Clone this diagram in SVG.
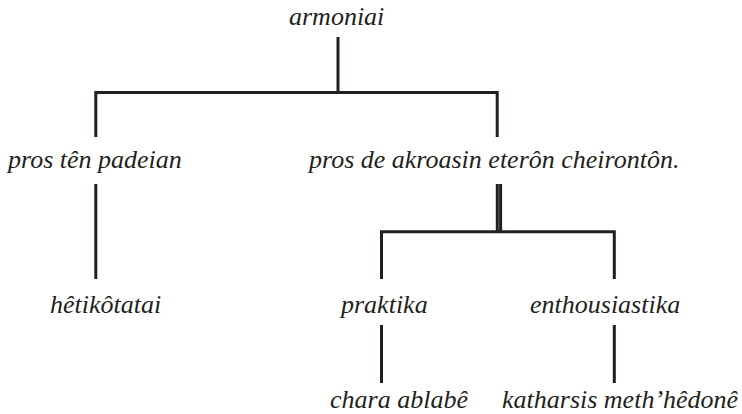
<svg xmlns="http://www.w3.org/2000/svg" width="742" height="414" viewBox="0 0 742 414">
  <style>
    .lbl { font-family: 'Liberation Serif', 'Times New Roman', serif; font-style: italic; font-size: 26px; fill: #231f20; }
    .ln { fill: none; stroke: #231f20; stroke-width: 3; stroke-linejoin: miter; stroke-linecap: butt; }
  </style>
  <rect width="742" height="414" fill="#ffffff"/>

  <g id="connectors">
    <!-- root stem and first split -->
    <path class="ln" d="M338,37 V92.5"/>
    <path class="ln" d="M95.8,137 V92.5 H497.2 V137"/>
    <!-- left branch down to leaf -->
    <path class="ln" d="M95.8,184 V279"/>
    <!-- double stem under right branch -->
    <path class="ln" stroke-width="2.6" d="M497.3,184 V231.7"/>
    <path class="ln" stroke-width="2.6" d="M500.6,184 V231.7"/>
    <!-- second split -->
    <path class="ln" d="M381.5,279 V231.7 H614.3 V279"/>
    <!-- lower stems -->
    <path class="ln" d="M381.5,325 V383"/>
    <path class="ln" d="M614.3,325 V383"/>
  </g>

  <g id="n-armoniai"><text class="lbl" x="289" y="25">armoniai</text></g>
  <g id="n-padeian"><text class="lbl" x="8" y="168">pros tên padeian</text></g>
  <g id="n-akroasin"><text class="lbl" x="309" y="168">pros de akroasin eterôn cheirontôn.</text></g>
  <g id="n-hetikotatai"><text class="lbl" x="50" y="313">hêtikôtatai</text></g>
  <g id="n-praktika"><text class="lbl" x="341" y="313">praktika</text></g>
  <g id="n-enthousiastika"><text class="lbl" x="530" y="313">enthousiastika</text></g>
  <g id="n-chara"><text class="lbl" x="330" y="408">chara ablabê</text></g>
  <g id="n-katharsis"><text class="lbl" x="502" y="408">katharsis meth’hêdonê</text></g>
</svg>
